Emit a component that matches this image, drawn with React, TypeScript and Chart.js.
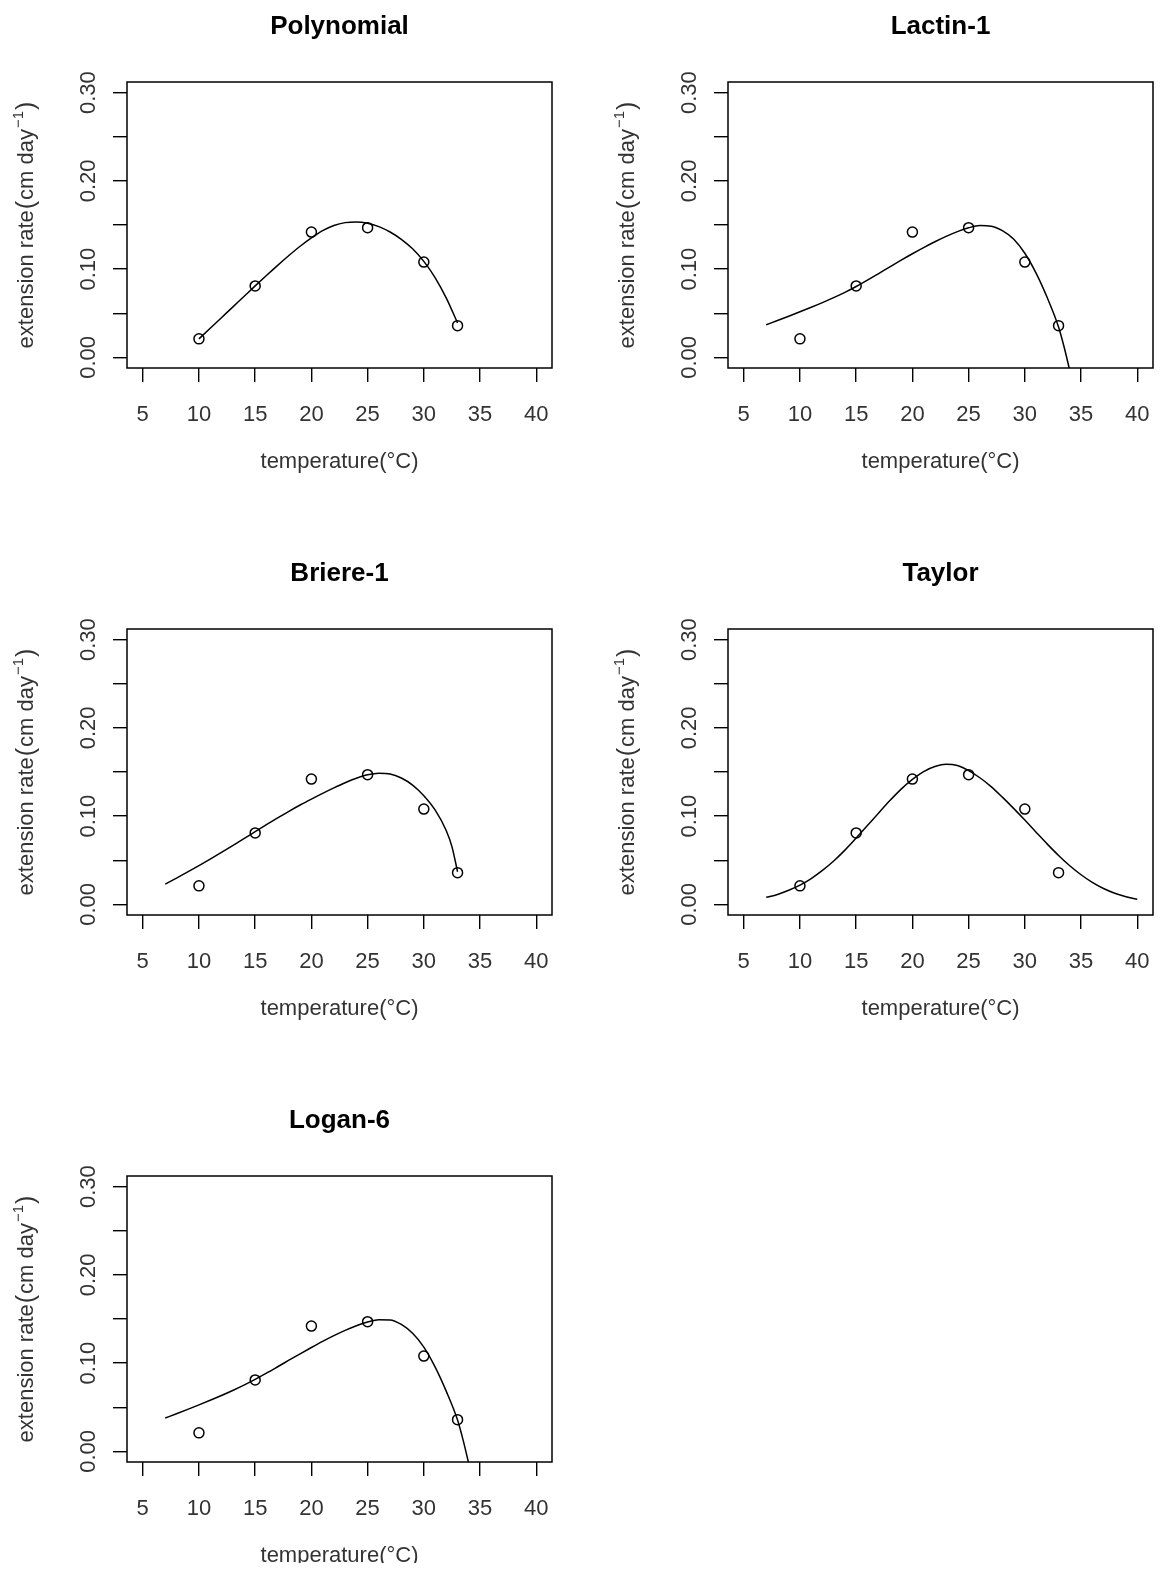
import React, { useEffect, useRef } from "react";
import { Chart, registerables } from "chart.js";

Chart.register(...registerables);

// ---------- data ----------
const xTickValues = [5, 10, 15, 20, 25, 30, 35, 40];
const xTickLabels = ["5", "10", "15", "20", "25", "30", "35", "40"];
const yTickValues = [0, 0.05, 0.1, 0.15, 0.2, 0.25, 0.3];
const yTickLabels = ["0.00", "", "0.10", "", "0.20", "", "0.30"];

const temperature = [10, 15, 20, 25, 30, 33];
const observedRate = [0.021, 0.081, 0.142, 0.147, 0.108, 0.036];

const polyT = [10, 11, 12, 13, 14, 15, 16, 17, 18, 19, 20, 21, 22, 23, 24, 25, 26, 27, 28, 29, 30, 31, 32, 33];
const polyRate = [0.021, 0.033, 0.045, 0.057, 0.069, 0.081, 0.0928, 0.1043, 0.1154, 0.1259, 0.1354, 0.1436, 0.1495, 0.1527, 0.1535, 0.152, 0.1482, 0.1421, 0.1338, 0.123, 0.1088, 0.0905, 0.0672, 0.039];

const lactinT = [7, 8, 9, 10, 11, 12, 13, 14, 15, 16, 17, 18, 19, 20, 21, 22, 23, 24, 25, 26, 27, 28, 29, 30, 31, 32, 33, 33.5, 34];
const lactinRate = [0.037, 0.0418, 0.0467, 0.0517, 0.0568, 0.0621, 0.0677, 0.0737, 0.0803, 0.0875, 0.095, 0.1026, 0.1101, 0.1174, 0.1244, 0.131, 0.1371, 0.1425, 0.1468, 0.1493, 0.1487, 0.1437, 0.1342, 0.118, 0.0955, 0.0675, 0.0345, 0.0115, -0.015];

const briereT = [7, 8, 9, 10, 11, 12, 13, 14, 15, 16, 17, 18, 19, 20, 21, 22, 23, 24, 25, 26, 27, 28, 29, 30, 31, 32, 32.5, 33];
const briereRate = [0.023, 0.0298, 0.0368, 0.044, 0.0514, 0.0589, 0.0666, 0.0744, 0.0824, 0.0903, 0.098, 0.1055, 0.1126, 0.1193, 0.1258, 0.132, 0.1378, 0.1429, 0.1468, 0.1486, 0.1478, 0.1432, 0.1352, 0.1232, 0.107, 0.0835, 0.0655, 0.037];

const taylorT = [7, 8, 9, 10, 11, 12, 13, 14, 15, 16, 17, 18, 19, 20, 21, 22, 23, 24, 25, 26, 27, 28, 29, 30, 31, 32, 33, 34, 35, 36, 37, 38, 39, 40];
const taylorRate = [0.008, 0.0113, 0.016, 0.0218, 0.0293, 0.0385, 0.0492, 0.0615, 0.0752, 0.0893, 0.1036, 0.1176, 0.1306, 0.1416, 0.1505, 0.1562, 0.1587, 0.1573, 0.1515, 0.1435, 0.1335, 0.1215, 0.1088, 0.0955, 0.0818, 0.0683, 0.0555, 0.0438, 0.0336, 0.025, 0.018, 0.0126, 0.0086, 0.0058];

const loganT = [7, 8, 9, 10, 11, 12, 13, 14, 15, 16, 17, 18, 19, 20, 21, 22, 23, 24, 25, 26, 27, 28, 29, 30, 31, 32, 33, 33.5, 34];
const loganRate = [0.0378, 0.0426, 0.0476, 0.0527, 0.0579, 0.0633, 0.069, 0.0751, 0.0816, 0.0886, 0.0959, 0.1033, 0.1106, 0.1177, 0.1246, 0.1311, 0.1371, 0.1424, 0.1466, 0.1492, 0.149, 0.1438, 0.1338, 0.1182, 0.0958, 0.068, 0.0355, 0.0125, -0.014];

const panelTitles = ["Polynomial", "Lactin-1", "Briere-1", "Taylor", "Logan-6"];
const xAxisTitle = "temperature(\u00B0C)";
const yAxisTitleParts = ["extension rate", "(", "cm day", "\u22121", ")"];

// ---------- layout ----------
const FONT = '"Liberation Sans", Arial, Helvetica, sans-serif';
const W = 560;
const H = 500;
const BOX_LEFT = 127;
const BOX_TOP = 82;
const BOX_W = 425;
const BOX_H = 286;
const X_MIN = 3.6;
const X_MAX = 41.4;
const Y_MIN = -0.012;
const Y_MAX = 0.312;

const panels = [
  { title: panelTitles[0], t: polyT, r: polyRate, left: 0, top: 0 },
  { title: panelTitles[1], t: lactinT, r: lactinRate, left: 601, top: 0 },
  { title: panelTitles[2], t: briereT, r: briereRate, left: 0, top: 547 },
  { title: panelTitles[3], t: taylorT, r: taylorRate, left: 601, top: 547 },
  { title: panelTitles[4], t: loganT, r: loganRate, left: 0, top: 1094 },
];

const rBasePlugin = {
  id: "rBase",
  afterDraw(chart: any) {
    const { ctx, chartArea: a } = chart;
    const xs = chart.scales.x;
    const ys = chart.scales.y;
    const title = chart.options.plugins.rBase.title;
    ctx.save();
    // box
    ctx.strokeStyle = "#000";
    ctx.lineWidth = 1.5;
    ctx.strokeRect(a.left, a.top, a.right - a.left, a.bottom - a.top);

    // x tick labels
    ctx.fillStyle = "#333";
    ctx.font = "22px " + FONT;
    ctx.textAlign = "center";
    ctx.textBaseline = "alphabetic";
    xTickValues.forEach((v, i) => {
      ctx.fillText(xTickLabels[i], xs.getPixelForValue(v), a.bottom + 53);
    });

    // y tick labels (rotated)
    yTickValues.forEach((v, i) => {
      if (!yTickLabels[i]) return;
      ctx.save();
      ctx.translate(a.left - 32, ys.getPixelForValue(v));
      ctx.rotate(-Math.PI / 2);
      ctx.fillText(yTickLabels[i], 0, 0);
      ctx.restore();
    });

    // x axis title
    ctx.fillText(xAxisTitle, (a.left + a.right) / 2, a.bottom + 100);

    // y axis title
    const fonts = ["22px " + FONT, "25px " + FONT, "22px " + FONT, "15px " + FONT, "25px " + FONT];
    const dys = [0, 1, 0, -10, 1];
    const gaps = [1, 1, 1, 1, 0];
    let total = 0;
    const widths = yAxisTitleParts.map((p, i) => {
      ctx.font = fonts[i];
      const w = ctx.measureText(p).width + gaps[i];
      total += w;
      return w;
    });
    ctx.save();
    ctx.translate(a.left - 94, (a.top + a.bottom) / 2);
    ctx.rotate(-Math.PI / 2);
    ctx.textAlign = "left";
    let cx = -total / 2;
    yAxisTitleParts.forEach((p, i) => {
      ctx.font = fonts[i];
      ctx.fillText(p, cx, dys[i]);
      cx += widths[i];
    });
    ctx.restore();

    // main title
    ctx.fillStyle = "#000";
    ctx.font = "bold 26px " + FONT;
    ctx.textAlign = "center";
    ctx.fillText(title, (a.left + a.right) / 2, a.top - 48.5);
    ctx.restore();
  },
};

function Panel(props: { title: string; t: number[]; r: number[]; left: number; top: number }) {
  const ref = useRef<HTMLCanvasElement | null>(null);
  useEffect(() => {
    if (!ref.current) return;
    const curve = props.t.map((x, i) => ({ x, y: props.r[i] }));
    const obs = temperature.map((x, i) => ({ x, y: observedRate[i] }));
    const chart = new Chart(ref.current, {
      type: "scatter",
      data: {
        datasets: [
          {
            type: "line",
            data: curve,
            borderColor: "#000",
            borderWidth: 1.5,
            pointRadius: 0,
            fill: false,
            cubicInterpolationMode: "monotone",
          } as any,
          {
            type: "scatter",
            data: obs,
            pointStyle: "circle",
            pointRadius: 5,
            borderColor: "#000",
            borderWidth: 1.5,
            backgroundColor: "rgba(0,0,0,0)",
          } as any,
        ],
      },
      options: {
        animation: false,
        responsive: false,
        maintainAspectRatio: false,
        devicePixelRatio: 1,
        events: [],
        layout: { padding: { left: 0, top: BOX_TOP, right: W - BOX_LEFT - BOX_W, bottom: 0 } },
        plugins: {
          legend: { display: false },
          tooltip: { enabled: false },
          title: { display: false },
          rBase: { title: props.title },
        } as any,
        scales: {
          x: {
            type: "linear",
            min: X_MIN,
            max: X_MAX,
            afterBuildTicks: (s: any) => {
              s.ticks = xTickValues.map((v) => ({ value: v }));
            },
            afterFit: (s: any) => {
              s.height = H - BOX_TOP - BOX_H;
            },
            grid: { drawOnChartArea: false, drawTicks: true, tickLength: 14, color: "#000", lineWidth: 1.4 },
            border: { display: false },
            ticks: { display: false },
          },
          y: {
            type: "linear",
            min: Y_MIN,
            max: Y_MAX,
            afterBuildTicks: (s: any) => {
              s.ticks = yTickValues.map((v) => ({ value: v }));
            },
            afterFit: (s: any) => {
              s.width = BOX_LEFT;
            },
            grid: { drawOnChartArea: false, drawTicks: true, tickLength: 14, color: "#000", lineWidth: 1.4 },
            border: { display: false },
            ticks: { display: false },
          },
        },
      } as any,
      plugins: [rBasePlugin],
    });
    return () => chart.destroy();
  }, []);
  return (
    <canvas
      ref={ref}
      width={W}
      height={H}
      style={{ position: "absolute", left: props.left, top: props.top, width: W, height: H, display: "block" }}
    />
  );
}

export default function App() {
  return (
    <div
      style={{
        position: "relative",
        width: 1163,
        height: 1571,
        margin: -8,
        overflow: "hidden",
        background: "#fff",
      }}
    >
      {panels.map((p, i) => (
        <Panel key={i} title={p.title} t={p.t} r={p.r} left={p.left} top={p.top} />
      ))}
    </div>
  );
}
